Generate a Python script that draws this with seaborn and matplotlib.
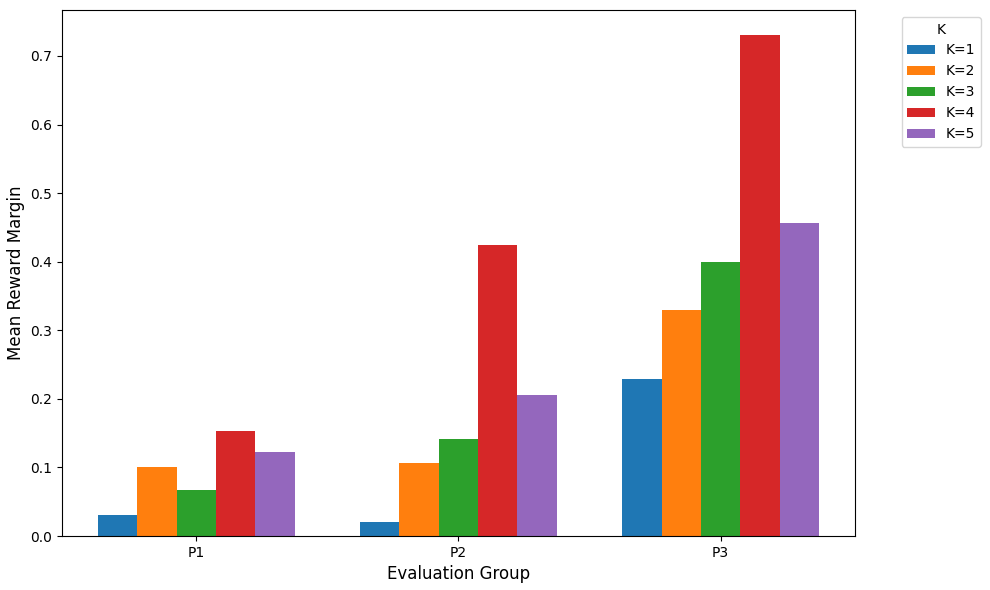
import pandas as pd
import matplotlib
matplotlib.use("Agg")
import matplotlib.pyplot as plt
import seaborn as sns

# mean reward margin per evaluation group and K
groups = ['P1', 'P2', 'P3']
k_labels = ['K=1', 'K=2', 'K=3', 'K=4', 'K=5']
k1 = [0.031, 0.020, 0.229]
k2 = [0.100, 0.107, 0.330]
k3 = [0.067, 0.141, 0.400]
k4 = [0.153, 0.424, 0.730]
k5 = [0.122, 0.205, 0.456]

rows = []
for k, vals in zip(k_labels, [k1, k2, k3, k4, k5]):
    for g, v in zip(groups, vals):
        rows.append({'group': g, 'K': k, 'margin': v})
df = pd.DataFrame(rows)

fig, ax = plt.subplots(figsize=(9.9, 5.9), dpi=100)
sns.barplot(data=df, x='group', y='margin', hue='K', hue_order=k_labels,
            order=groups, palette='tab10', width=0.75, saturation=1, ax=ax)
ax.set_xlim(-0.5125, 2.5125)
ax.set_ylim(0, 0.767)
ax.set_xlabel("Evaluation Group", fontsize=12)
ax.set_ylabel("Mean Reward Margin", fontsize=12)
ax.legend(title='K', bbox_to_anchor=(1.05, 1), loc='upper left')
fig.subplots_adjust(left=0.0626, right=0.8636, top=0.983, bottom=0.0915)
fig.savefig("out.png")
